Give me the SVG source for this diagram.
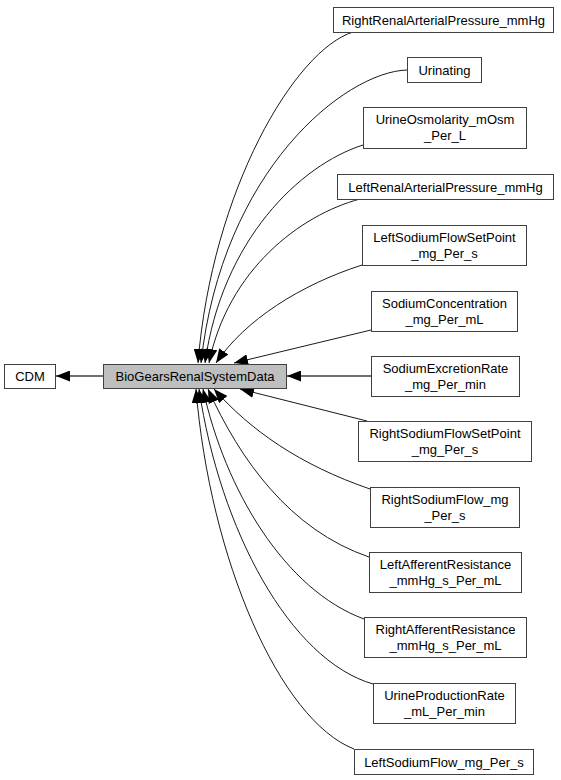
<svg xmlns="http://www.w3.org/2000/svg" width="561" height="780" viewBox="0 0 561 780">
<style>
.n rect{fill:#fff;stroke:#404040;stroke-width:1}
.n text{font-family:"Liberation Sans",Arial,sans-serif;font-size:13px;fill:#000;text-anchor:middle}
#bg rect{fill:#bfbfbf}
.e path{fill:none;stroke:#1a1a1a;stroke-width:1;marker-end:url(#ah)}
.e path.h{stroke:#404040;stroke-width:1.3}
</style>
<defs>
<marker id="ah" markerUnits="userSpaceOnUse" markerWidth="14" markerHeight="11" viewBox="0 0 14 11" refX="14" refY="5.5" orient="auto">
<path d="M0,0 L14,5.5 L0,11 z" fill="#000"/>
</marker>
</defs>
<g class="e" id="edges">
<path class="h" d="M103,376 L56,376"/>
<path d="M353,32 C295,50 212,190 198,363"/>
<path d="M407,70 C345,72 222,170 201,363"/>
<path d="M363,145 C300,165 222,240 205,363"/>
<path d="M360,199 C300,215 228,270 209,363"/>
<path d="M362,265 C300,285 245,320 216,363"/>
<path d="M371,330 L234,363"/>
<path class="h" d="M371,376 L287,376"/>
<path d="M367,421 L240,389"/>
<path d="M370,489 C300,465 250,430 214,389"/>
<path d="M369,557 C290,530 240,460 208,389"/>
<path d="M364,619 C285,590 225,490 203,389"/>
<path d="M373,684 C290,660 220,530 199,389"/>
<path d="M354,749 C280,720 210,560 196,389"/>
</g>
<g class="n" id="cdm"><rect x="4.5" y="364.5" width="51" height="24"/><text x="30" y="381">CDM</text></g>
<g class="n" id="bg"><rect x="103.5" y="364.5" width="183" height="24"/><text x="195" y="381">BioGearsRenalSystemData</text></g>
<g class="n" id="n1"><rect x="333.5" y="7.5" width="220" height="25"/><text x="443.5" y="25">RightRenalArterialPressure_mmHg</text></g>
<g class="n" id="n2"><rect x="407.5" y="57.5" width="74" height="25"/><text x="444.5" y="75">Urinating</text></g>
<g class="n" id="n3"><rect x="363.5" y="107.5" width="163" height="41"/><text x="445" y="124">UrineOsmolarity_mOsm</text><text x="445" y="140">_Per_L</text></g>
<g class="n" id="n4"><rect x="337.5" y="174.5" width="216" height="25"/><text x="445.5" y="192">LeftRenalArterialPressure_mmHg</text></g>
<g class="n" id="n5"><rect x="362.5" y="225.5" width="164" height="40"/><text x="444.5" y="242">LeftSodiumFlowSetPoint</text><text x="444.5" y="258">_mg_Per_s</text></g>
<g class="n" id="n6"><rect x="371.5" y="291.5" width="146" height="40"/><text x="444.5" y="308">SodiumConcentration</text><text x="444.5" y="324">_mg_Per_mL</text></g>
<g class="n" id="n7"><rect x="371.5" y="356.5" width="148" height="40"/><text x="445.5" y="373">SodiumExcretionRate</text><text x="445.5" y="389">_mg_Per_min</text></g>
<g class="n" id="n8"><rect x="358.5" y="421.5" width="173" height="40"/><text x="445" y="438">RightSodiumFlowSetPoint</text><text x="445" y="454">_mg_Per_s</text></g>
<g class="n" id="n9"><rect x="370.5" y="487.5" width="149" height="40"/><text x="445" y="504">RightSodiumFlow_mg</text><text x="445" y="520">_Per_s</text></g>
<g class="n" id="n10"><rect x="369.5" y="552.5" width="152" height="40"/><text x="445.5" y="569">LeftAfferentResistance</text><text x="445.5" y="585">_mmHg_s_Per_mL</text></g>
<g class="n" id="n11"><rect x="364.5" y="617.5" width="162" height="40"/><text x="445.5" y="634">RightAfferentResistance</text><text x="445.5" y="650">_mmHg_s_Per_mL</text></g>
<g class="n" id="n12"><rect x="373.5" y="683.5" width="142" height="40"/><text x="444.5" y="700">UrineProductionRate</text><text x="444.5" y="716">_mL_Per_min</text></g>
<g class="n" id="n13"><rect x="354.5" y="749.5" width="179" height="25"/><text x="444" y="767">LeftSodiumFlow_mg_Per_s</text></g>
</svg>
